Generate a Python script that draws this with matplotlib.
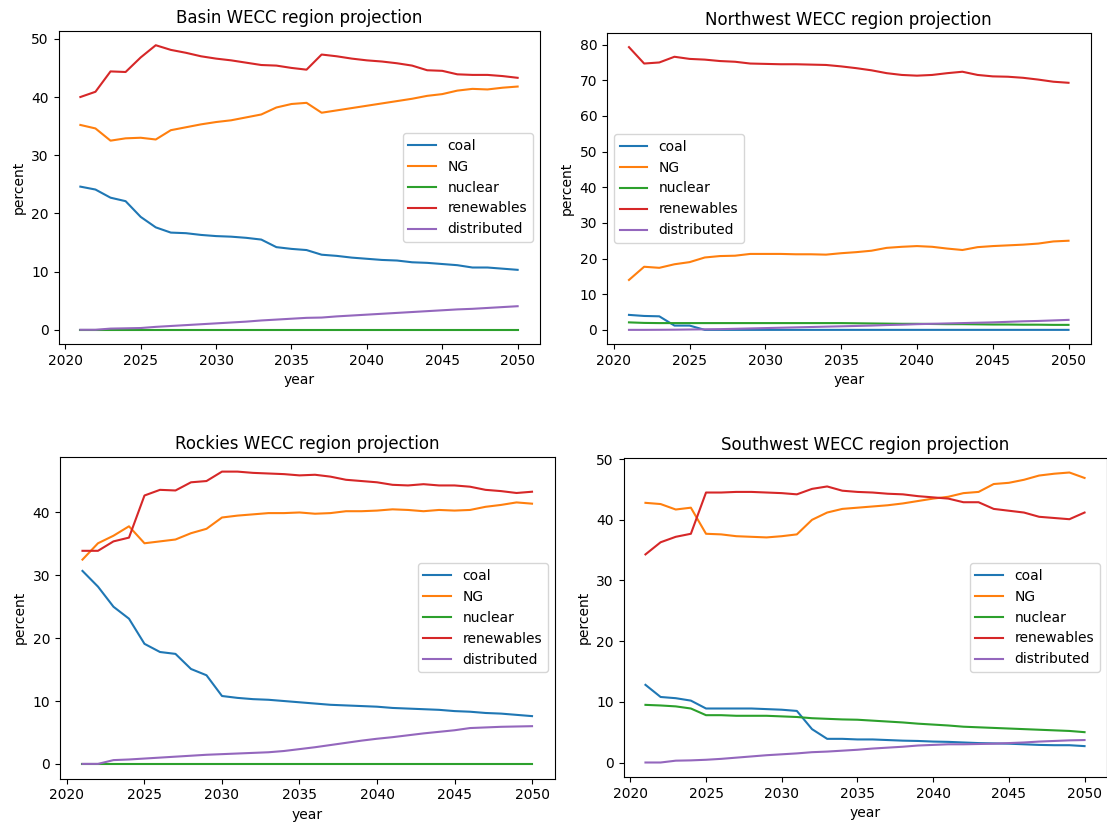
import matplotlib
matplotlib.use("Agg")
import matplotlib.pyplot as plt
import numpy as np

years = list(range(2021, 2051))
series_names = ["coal", "NG", "nuclear", "renewables", "distributed"]

# Basin
basin_coal = [24.6, 24.1, 22.7, 22.1, 19.4, 17.6, 16.7, 16.6, 16.3, 16.1, 16.0, 15.8, 15.5, 14.2, 13.9,
              13.7, 12.9, 12.7, 12.4, 12.2, 12.0, 11.9, 11.6, 11.5, 11.3, 11.1, 10.7, 10.7, 10.5, 10.3]
basin_ng = [35.2, 34.6, 32.5, 32.9, 33.0, 32.7, 34.3, 34.8, 35.3, 35.7, 36.0, 36.5, 37.0, 38.2, 38.8,
            39.0, 37.3, 37.7, 38.1, 38.5, 38.9, 39.3, 39.7, 40.2, 40.5, 41.1, 41.4, 41.3, 41.6, 41.8]
basin_nuclear = [0.0] * 30
basin_renew = [40.0, 40.9, 44.4, 44.3, 46.8, 48.9, 48.1, 47.6, 47.0, 46.6, 46.3, 45.9, 45.5, 45.4, 45.0,
               44.7, 47.3, 47.0, 46.6, 46.3, 46.1, 45.8, 45.4, 44.6, 44.5, 43.9, 43.8, 43.8, 43.6, 43.3]
basin_dist = [0.0, 0.0, 0.2, 0.25, 0.3, 0.5, 0.65, 0.8, 0.95, 1.1, 1.25, 1.4, 1.6, 1.75, 1.9,
              2.05, 2.1, 2.3, 2.45, 2.6, 2.75, 2.9, 3.05, 3.2, 3.35, 3.5, 3.6, 3.75, 3.9, 4.05]

# Northwest
nw_coal = [4.2, 3.9, 3.8, 1.2, 1.2, 0.0, 0.0, 0.0, 0.0, 0.0, 0.0, 0.0, 0.0, 0.0, 0.0,
           0.0, 0.0, 0.0, 0.0, 0.0, 0.0, 0.0, 0.0, 0.0, 0.0, 0.0, 0.0, 0.0, 0.0, 0.0]
nw_ng = [14.0, 17.7, 17.4, 18.4, 19.0, 20.3, 20.7, 20.8, 21.3, 21.3, 21.3, 21.2, 21.2, 21.1, 21.5,
         21.8, 22.2, 23.0, 23.3, 23.5, 23.3, 22.8, 22.4, 23.2, 23.5, 23.7, 23.9, 24.2, 24.8, 25.0]
nw_nuclear = [2.1, 1.95, 1.9, 1.9, 1.9, 1.9, 1.9, 1.9, 1.9, 1.9, 1.9, 1.9, 1.9, 1.9, 1.9,
              1.85, 1.8, 1.75, 1.7, 1.7, 1.65, 1.6, 1.6, 1.55, 1.5, 1.5, 1.45, 1.45, 1.4, 1.4]
nw_renew = [79.3, 74.7, 75.0, 76.6, 76.0, 75.8, 75.4, 75.2, 74.7, 74.6, 74.5, 74.5, 74.4, 74.3, 73.9,
            73.4, 72.8, 72.0, 71.5, 71.3, 71.5, 72.0, 72.4, 71.5, 71.1, 71.0, 70.7, 70.2, 69.6, 69.3]
nw_dist = [0.0, 0.0, 0.02, 0.05, 0.1, 0.15, 0.2, 0.3, 0.4, 0.5, 0.6, 0.7, 0.8, 0.9, 1.0,
           1.1, 1.2, 1.35, 1.45, 1.6, 1.7, 1.8, 1.9, 2.0, 2.1, 2.25, 2.4, 2.5, 2.65, 2.8]

# Rockies
rk_coal = [30.7, 28.2, 25.0, 23.1, 19.1, 17.8, 17.5, 15.1, 14.1, 10.8, 10.5, 10.3, 10.2, 10.0, 9.8,
           9.6, 9.4, 9.3, 9.2, 9.1, 8.9, 8.8, 8.7, 8.6, 8.4, 8.3, 8.1, 8.0, 7.8, 7.6]
rk_ng = [32.5, 35.1, 36.3, 37.8, 35.1, 35.4, 35.7, 36.7, 37.4, 39.2, 39.5, 39.7, 39.9, 39.9, 40.0,
         39.8, 39.9, 40.2, 40.2, 40.3, 40.5, 40.4, 40.2, 40.4, 40.3, 40.4, 40.9, 41.2, 41.6, 41.4]
rk_nuclear = [0.0] * 30
rk_renew = [33.9, 33.9, 35.4, 36.0, 42.7, 43.6, 43.5, 44.8, 45.0, 46.5, 46.5, 46.3, 46.2, 46.1, 45.9,
            46.0, 45.7, 45.2, 45.0, 44.8, 44.4, 44.3, 44.5, 44.3, 44.3, 44.1, 43.6, 43.4, 43.1, 43.3]
rk_dist = [0.0, 0.0, 0.6, 0.7, 0.85, 1.0, 1.15, 1.3, 1.45, 1.55, 1.65, 1.75, 1.85, 2.05, 2.35,
           2.65, 3.0, 3.35, 3.7, 4.0, 4.25, 4.55, 4.85, 5.1, 5.35, 5.7, 5.8, 5.9, 5.95, 6.0]

# Southwest
sw_coal = [12.8, 10.8, 10.6, 10.2, 8.9, 8.9, 8.9, 8.9, 8.8, 8.7, 8.5, 5.5, 3.9, 3.9, 3.8,
           3.8, 3.7, 3.6, 3.55, 3.45, 3.4, 3.3, 3.2, 3.15, 3.1, 3.0, 2.9, 2.85, 2.85, 2.7]
sw_ng = [42.8, 42.6, 41.7, 42.0, 37.7, 37.6, 37.3, 37.2, 37.1, 37.3, 37.6, 40.0, 41.2, 41.8, 42.0,
         42.2, 42.4, 42.7, 43.1, 43.5, 43.8, 44.4, 44.6, 45.9, 46.1, 46.6, 47.3, 47.6, 47.8, 46.9]
sw_nuclear = [9.5, 9.4, 9.25, 8.9, 7.8, 7.8, 7.7, 7.7, 7.7, 7.6, 7.5, 7.3, 7.2, 7.1, 7.05,
              6.9, 6.75, 6.6, 6.4, 6.25, 6.1, 5.9, 5.8, 5.7, 5.6, 5.5, 5.4, 5.3, 5.2, 5.0]
sw_renew = [34.3, 36.3, 37.2, 37.7, 44.5, 44.5, 44.6, 44.6, 44.5, 44.4, 44.2, 45.1, 45.5, 44.8, 44.6,
            44.5, 44.3, 44.2, 43.9, 43.7, 43.5, 42.9, 42.9, 41.8, 41.5, 41.2, 40.5, 40.3, 40.1, 41.2]
sw_dist = [0.0, 0.0, 0.3, 0.35, 0.45, 0.6, 0.8, 1.0, 1.2, 1.35, 1.5, 1.7, 1.8, 1.95, 2.1,
           2.3, 2.45, 2.6, 2.8, 2.9, 3.0, 3.0, 3.05, 3.1, 3.2, 3.3, 3.45, 3.55, 3.65, 3.7]

panels = [
    ("Basin WECC region projection", [basin_coal, basin_ng, basin_nuclear, basin_renew, basin_dist], "center right"),
    ("Northwest WECC region projection", [nw_coal, nw_ng, nw_nuclear, nw_renew, nw_dist], "center left"),
    ("Rockies WECC region projection", [rk_coal, rk_ng, rk_nuclear, rk_renew, rk_dist], "center right"),
    ("Southwest WECC region projection", [sw_coal, sw_ng, sw_nuclear, sw_renew, sw_dist], "center right"),
]

W, H = 1107, 825
fig = plt.figure(figsize=(W / 100, H / 100), dpi=100)

# pixel boxes: left, top, right, bottom
boxes = [
    (58.5, 31, 539.5, 344),
    (607, 33, 1090.5, 344),
    (60, 457, 554.5, 778.5),
    (623.5, 458, 1106.5, 777),
]

for (title, data, loc), (l, t, r, b) in zip(panels, boxes):
    ax = fig.add_axes([l / W, 1 - b / H, (r - l) / W, (b - t) / H])
    for name, vals in zip(series_names, data):
        ax.plot(years, vals, label=name, linewidth=1.5)
    ax.set_title(title, fontsize=12)
    ax.set_xlabel("year")
    ax.set_ylabel("percent")
    ax.legend(loc=loc)

fig.savefig("out.png", dpi=100)
